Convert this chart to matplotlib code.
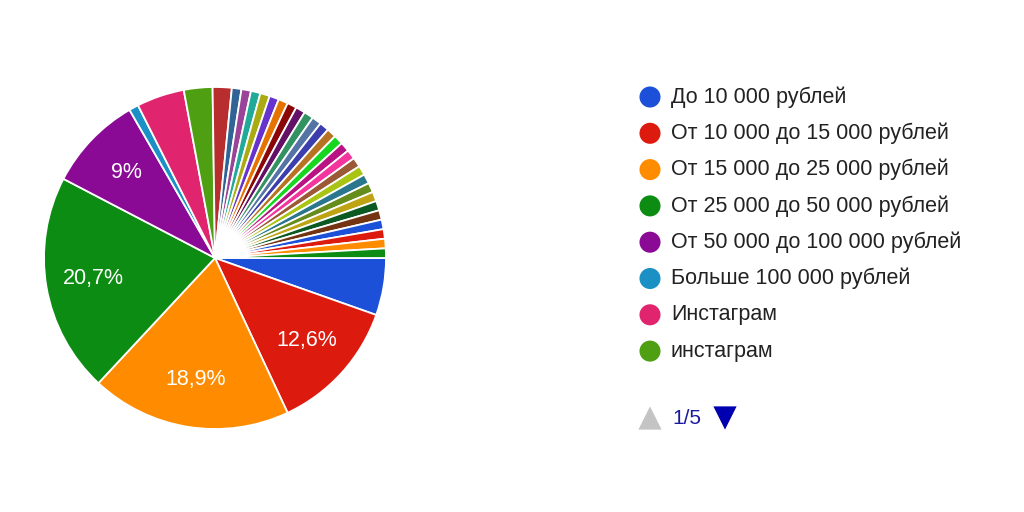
import matplotlib
matplotlib.use("Agg")
import matplotlib.pyplot as plt

plt.rcParams['font.family'] = ['Liberation Sans', 'DejaVu Sans']

# answers (counts out of 111), first 8 are on legend page 1/5
legend_labels = [
    "До 10 000 рублей",
    "От 10 000 до 15 000 рублей",
    "От 15 000 до 25 000 рублей",
    "От 25 000 до 50 000 рублей",
    "От 50 000 до 100 000 рублей",
    "Больше 100 000 рублей",
    "Инстаграм",
    "инстаграм",
]
main_counts = [6, 14, 21, 23, 10, 1, 5, 3]
small_counts = [2, 1, 1, 1, 1, 1, 1, 1, 1, 1, 1, 1, 1, 1, 1, 1, 1, 1, 1, 1,
                1, 1, 1, 1, 1, 1, 1]
counts = main_counts + small_counts

# colours as they look in the screenshot (google palette, a bit saturated)
main_colors = ['#1c50d8', '#dd1a0e', '#ff8c00', '#0c8c12', '#8a0a96',
               '#1a90c4', '#e0246e', '#4ea012']
palette = ['#3366cc', '#dc3912', '#ff9900', '#109618', '#990099', '#0099c6',
           '#dd4477', '#66aa00', '#b82e2e', '#316395', '#994499', '#22aa99',
           '#aaaa11', '#6633cc', '#e67300', '#8b0707', '#651067', '#329262',
           '#5574a6', '#3b3eac', '#b77322', '#16d620', '#b91383', '#f4359e',
           '#9c5935', '#a9c413', '#2a778d', '#668d1c', '#bea413', '#0c5922',
           '#743411']
colors = main_colors + [palette[i % len(palette)] for i in range(8, len(counts))]
colors[31:35] = main_colors[:4]

W, H = 1024, 512
fig = plt.figure(figsize=(W / 100, H / 100), dpi=100)
fig.patch.set_facecolor('white')

cx, cy, r = 215, 258, 171
ax = fig.add_axes([(cx - r) / W, (H - cy - r) / H, 2 * r / W, 2 * r / H])


def fmt(p):
    if p < 8.5:
        return ''
    s = f"{p:.1f}".replace('.', ',')
    if s.endswith(',0'):
        s = s[:-2]
    return s + '%'


wedges, texts, autotexts = ax.pie(
    counts, colors=colors, startangle=0, counterclock=False, radius=1,
    autopct=fmt, pctdistance=0.72,
    wedgeprops=dict(edgecolor='white', linewidth=1.3),
    textprops=dict(color='white', fontsize=15.5))
ax.set_xlim(-1, 1)
ax.set_ylim(-1, 1)
ax.set_aspect('equal')
ax.axis('off')

# legend, drawn by hand like the google one
lg = fig.add_axes([0, 0, 1, 1])
lg.set_xlim(0, W)
lg.set_ylim(H, 0)
lg.axis('off')
y0, step = 97, 36.3
for i, lab in enumerate(legend_labels):
    y = y0 + i * step
    lg.scatter([650], [y], s=230, color=colors[i], edgecolors='none')
    lg.text(671, y, lab, fontsize=15.5, color='#222222', va='center', ha='left')

lg.scatter([650], [418], marker='^', s=280, color='#c4c4c4', edgecolors='none')
lg.text(672, 418, "1/5", fontsize=15, color='#1a1aa0', va='center', ha='left')
lg.scatter([725], [418], marker='v', s=280, color='#0000b0', edgecolors='none')

fig.savefig('out.png', dpi=100, facecolor='white')
